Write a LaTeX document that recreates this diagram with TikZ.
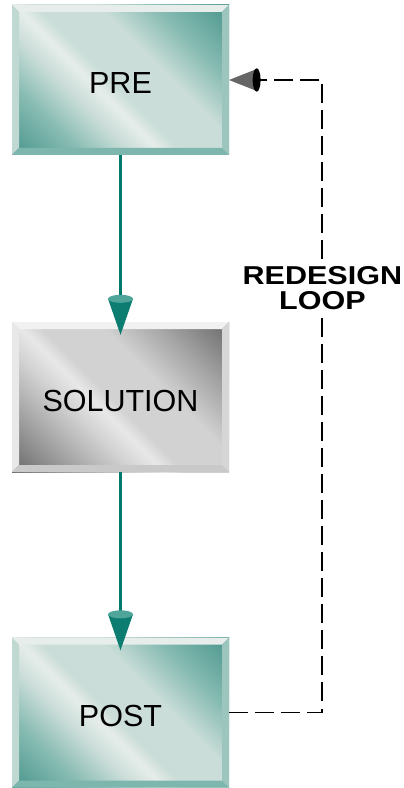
\documentclass[tikz,border=0pt]{standalone}
\usepackage{fontspec}
\setmainfont{Liberation Sans}
\newfontfamily\loopfont[FakeStretch=1.18]{Liberation Sans}
\usetikzlibrary{positioning,arrows.meta,calc,shadings}
\definecolor{tealDark}{HTML}{4A968C}
\definecolor{tealMid}{HTML}{86BBB2}
\definecolor{tealLight}{HTML}{CADDD8}
\definecolor{tealBright}{HTML}{E6EDEA}
\definecolor{greyDark}{HTML}{6A6A6A}
\definecolor{greyMid}{HTML}{A6A6A6}
\definecolor{greyLight}{HTML}{D2D2D2}
\definecolor{greyBright}{HTML}{E8E8E8}
\definecolor{flowTeal}{HTML}{007A6D}
\definecolor{headTeal}{HTML}{0E7D71}
\definecolor{capTeal}{HTML}{4FA59A}
\definecolor{headGrey}{HTML}{666666}
\pgfdeclarehorizontalshading{tealmetal}{100bp}{color(0bp)=(tealDark); color(15bp)=(tealDark); color(28bp)=(tealMid); color(38bp)=(tealLight); color(44bp)=(tealBright); color(48bp)=(tealLight); color(60bp)=(tealLight); color(71bp)=(tealMid); color(85bp)=(tealDark); color(100bp)=(tealDark)}
\pgfdeclarehorizontalshading{greymetal}{100bp}{color(0bp)=(greyDark); color(15bp)=(greyDark); color(28bp)=(greyMid); color(38bp)=(greyLight); color(44bp)=(greyBright); color(48bp)=(greyLight); color(60bp)=(greyLight); color(71bp)=(greyMid); color(85bp)=(greyDark); color(100bp)=(greyDark)}
% bevelled rim round a box: node, top, left, right, bottom
\newcommand\bevw{0.175}
\newcommand\bevelframe[5]{%
  \fill[#2] (#1.north west) -- (#1.north east) -- ($(#1.north east)+(-\bevw,-\bevw)$) -- ($(#1.north west)+(\bevw,-\bevw)$) -- cycle;
  \fill[#3] (#1.north west) -- ($(#1.north west)+(\bevw,-\bevw)$) -- ($(#1.south west)+(\bevw,\bevw)$) -- (#1.south west) -- cycle;
  \fill[#4] (#1.north east) -- ($(#1.north east)+(-\bevw,-\bevw)$) -- ($(#1.south east)+(-\bevw,\bevw)$) -- (#1.south east) -- cycle;
  \fill[#5] (#1.south west) -- ($(#1.south west)+(\bevw,\bevw)$) -- ($(#1.south east)+(-\bevw,\bevw)$) -- (#1.south east) -- cycle;}

\begin{document}
\begin{tikzpicture}[
        >=Stealth,
        stage/.style={shade, shading angle=45, minimum width=5.425cm, minimum height=3.75cm, inner sep=0pt, outer sep=0pt, text height=0.7cm, text depth=0pt, font=\fontsize{21.7}{24}\selectfont},
        tealstage/.style={stage, shading=tealmetal},
        greystage/.style={stage, shading=greymetal},
        flow/.style={draw=flowTeal, line width=0.075cm, -{Triangle[length=0.9cm, width=0.625cm, fill=headTeal, line width=0pt]}, shorten >=-0.32cm},
        loopline/.style={draw=black, line width=1.4pt, dash pattern=on 13.5pt off 5pt, -{Triangle[length=0.725cm, width=0.575cm, fill=headGrey, line width=0pt]}},
        looplabel/.style={fill=white, align=center, inner sep=2pt, font=\loopfont\bfseries\fontsize{18.4}{17.8}\selectfont}
    ]
        \useasboundingbox (0,0) rectangle (10.075,-19.7);

        % Stages
        \node[tealstage] (pre) at (3.0125,-2.0) {PRE};
        \node[greystage] (sol) at (3.0125,-9.925) {SOLUTION};
        \node[tealstage] (post) at (3.0125,-17.8125) {POST};

        % Bevelled rims
        \bevelframe{pre}{tealBright}{tealLight!85!tealMid}{tealMid!70!tealLight}{tealMid!85!tealDark}
        \bevelframe{sol}{greyBright!60!white}{greyBright}{greyLight!80!greyBright}{greyLight!80!greyMid}
        \bevelframe{post}{tealBright}{tealLight!85!tealMid}{tealMid!70!tealLight}{tealMid!85!tealDark}

        % Forward flow
        \draw[flow] (pre.south) -- (sol.north);
        \fill[capTeal] ($(sol.north)+(0,0.58)$) ellipse (0.3125cm and 0.1cm);
        \draw[flow] (sol.south) -- (post.north);
        \fill[capTeal] ($(post.north)+(0,0.58)$) ellipse (0.3125cm and 0.1cm);

        % Redesign loop back to PRE
        \draw[loopline] (post.east) -- ++(2.325,0) |- (pre.east);
        \fill[black] ($(pre.east)+(0.69,0)$) ellipse (0.1cm and 0.29cm);
        \node[looplabel] (loop) at (8.06,-7.2) {REDESIGN\\LOOP};
    \end{tikzpicture}
\end{document}
